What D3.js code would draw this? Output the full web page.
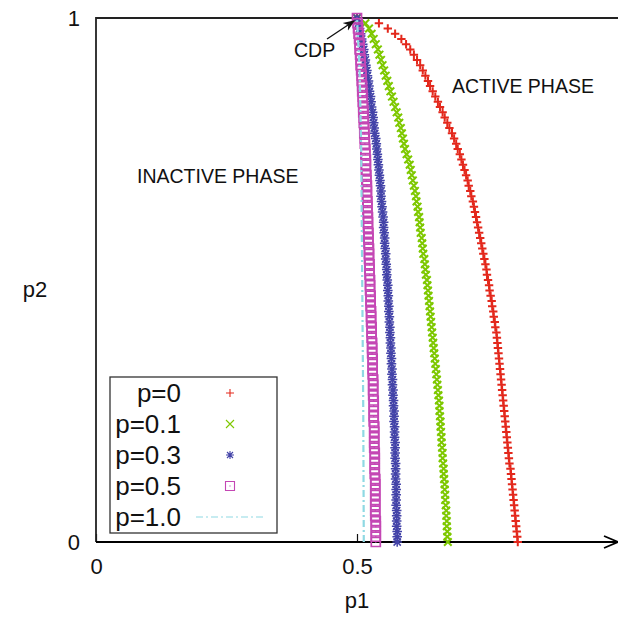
<!DOCTYPE html>
<html lang="en">

<head>
    <meta charset="UTF-8">
    <title>phase diagram</title>
    <style>
        body { margin: 0; background: #fff; }
        svg text { font-family: "Liberation Sans", Arial, Helvetica, sans-serif; fill: #111; }
    </style>
</head>

<body>
    <svg width="618" height="617" id="svg"></svg>
    <script src="https://d3js.org/d3.v7.min.js"></script>
    <script>
        // p2 grid shared by the four marker series (bottom -> top)
        const p2Grid = [
            0.00, 0.01, 0.02, 0.03, 0.04, 0.05, 0.06, 0.07, 0.08, 0.09,
            0.10, 0.11, 0.12, 0.13, 0.14, 0.15, 0.16, 0.17, 0.18, 0.19,
            0.20, 0.21, 0.22, 0.23, 0.24, 0.25, 0.26, 0.27, 0.28, 0.29,
            0.30, 0.31, 0.32, 0.33, 0.34, 0.35, 0.36, 0.37, 0.38, 0.39,
            0.40, 0.41, 0.42, 0.43, 0.44, 0.45, 0.46, 0.47, 0.48, 0.49,
            0.50, 0.51, 0.52, 0.53, 0.54, 0.55, 0.56, 0.57, 0.58, 0.59,
            0.60, 0.61, 0.62, 0.63, 0.64, 0.65, 0.66, 0.67, 0.68, 0.69,
            0.70, 0.71, 0.72, 0.73, 0.74, 0.75, 0.76, 0.77, 0.78, 0.79,
            0.80, 0.81, 0.82, 0.83, 0.84, 0.85, 0.86, 0.87, 0.88, 0.89,
            0.90, 0.91, 0.92, 0.93, 0.94, 0.95, 0.96, 0.97, 0.98, 0.99,
            1.00
        ]
        // p1 on the phase boundary, one value per p2Grid entry
        const p1_p0 = [
            0.808, 0.807, 0.806, 0.805, 0.804, 0.803, 0.802, 0.801, 0.800, 0.799,
            0.798, 0.797, 0.796, 0.795, 0.794, 0.792, 0.791, 0.790, 0.789, 0.788,
            0.787, 0.786, 0.785, 0.784, 0.783, 0.782, 0.781, 0.780, 0.779, 0.778,
            0.777, 0.776, 0.775, 0.774, 0.773, 0.772, 0.771, 0.770, 0.769, 0.768,
            0.767, 0.765, 0.764, 0.762, 0.761, 0.759, 0.758, 0.756, 0.754, 0.753,
            0.751, 0.749, 0.748, 0.746, 0.744, 0.742, 0.740, 0.738, 0.736, 0.734,
            0.732, 0.730, 0.728, 0.726, 0.724, 0.722, 0.719, 0.717, 0.714, 0.712,
            0.709, 0.706, 0.703, 0.700, 0.697, 0.693, 0.690, 0.686, 0.682, 0.677,
            0.673, 0.668, 0.664, 0.659, 0.655, 0.650, 0.645, 0.640, 0.636, 0.631,
            0.626, 0.621, 0.615, 0.609, 0.602, 0.594, 0.585, 0.573, 0.559, 0.542,
            0.500
        ]
        const p1_p01 = [
            0.674, 0.673, 0.673, 0.672, 0.672, 0.671, 0.671, 0.670, 0.669, 0.669,
            0.668, 0.668, 0.667, 0.666, 0.666, 0.665, 0.664, 0.664, 0.663, 0.662,
            0.662, 0.661, 0.660, 0.660, 0.659, 0.658, 0.658, 0.657, 0.656, 0.655,
            0.654, 0.653, 0.652, 0.651, 0.650, 0.649, 0.648, 0.647, 0.646, 0.645,
            0.644, 0.643, 0.642, 0.641, 0.640, 0.639, 0.638, 0.637, 0.636, 0.635,
            0.634, 0.632, 0.631, 0.630, 0.629, 0.627, 0.626, 0.625, 0.624, 0.622,
            0.621, 0.620, 0.619, 0.617, 0.616, 0.614, 0.613, 0.611, 0.609, 0.607,
            0.605, 0.603, 0.601, 0.598, 0.595, 0.592, 0.590, 0.588, 0.586, 0.584,
            0.581, 0.579, 0.576, 0.573, 0.570, 0.567, 0.564, 0.561, 0.558, 0.555,
            0.552, 0.549, 0.546, 0.543, 0.540, 0.536, 0.532, 0.528, 0.523, 0.516,
            0.500
        ]
        const p1_p03 = [
            0.577, 0.577, 0.577, 0.576, 0.576, 0.576, 0.576, 0.575, 0.575, 0.575,
            0.575, 0.575, 0.574, 0.574, 0.574, 0.574, 0.573, 0.573, 0.573, 0.573,
            0.572, 0.572, 0.572, 0.571, 0.571, 0.571, 0.570, 0.570, 0.569, 0.569,
            0.568, 0.568, 0.567, 0.567, 0.566, 0.566, 0.565, 0.565, 0.564, 0.564,
            0.563, 0.563, 0.562, 0.562, 0.561, 0.561, 0.560, 0.560, 0.559, 0.559,
            0.558, 0.557, 0.557, 0.556, 0.555, 0.555, 0.554, 0.553, 0.553, 0.552,
            0.551, 0.551, 0.550, 0.549, 0.548, 0.547, 0.546, 0.546, 0.545, 0.544,
            0.543, 0.542, 0.541, 0.540, 0.539, 0.538, 0.537, 0.536, 0.534, 0.533,
            0.532, 0.531, 0.530, 0.528, 0.527, 0.526, 0.524, 0.523, 0.522, 0.520,
            0.519, 0.517, 0.516, 0.514, 0.513, 0.511, 0.509, 0.507, 0.505, 0.503,
            0.500
        ]
        const p1_p05 = [
            0.536, 0.536, 0.536, 0.536, 0.536, 0.535, 0.535, 0.535, 0.535, 0.535,
            0.535, 0.535, 0.535, 0.534, 0.534, 0.534, 0.534, 0.534, 0.533, 0.533,
            0.533, 0.533, 0.533, 0.532, 0.532, 0.532, 0.532, 0.532, 0.531, 0.531,
            0.531, 0.531, 0.530, 0.530, 0.530, 0.530, 0.529, 0.529, 0.529, 0.528,
            0.528, 0.528, 0.527, 0.527, 0.527, 0.526, 0.526, 0.526, 0.525, 0.525,
            0.525, 0.524, 0.524, 0.524, 0.523, 0.523, 0.523, 0.522, 0.522, 0.522,
            0.521, 0.521, 0.521, 0.520, 0.520, 0.520, 0.519, 0.519, 0.519, 0.518,
            0.518, 0.517, 0.517, 0.517, 0.516, 0.516, 0.515, 0.515, 0.514, 0.514,
            0.513, 0.513, 0.512, 0.512, 0.511, 0.511, 0.510, 0.510, 0.509, 0.509,
            0.508, 0.507, 0.507, 0.506, 0.505, 0.505, 0.504, 0.503, 0.502, 0.501,
            0.500
        ]
        // p=1.0 is drawn as a line
        const p2_p10 = [0.00, 0.25, 0.50, 0.75, 0.90, 1.00]
        const p1_p10 = [0.513, 0.512, 0.510, 0.508, 0.505, 0.500]

        const seriesNames = ["p=0", "p=0.1", "p=0.3", "p=0.5", "p=1.0"]
        const xTicks = [0, 0.5]
        const yTicks = [0, 1]

        const colors = ["#e3281c", "#7ec800", "#4343a8", "#c447b4", "#8fd9e3"]

        const svg = d3.select("svg#svg")
        const width = +svg.attr("width")
        const height = +svg.attr("height")
        const padding = { top: 18, bottom: 75, right: 0, left: 96 }

        const xScale = d3.scaleLinear().domain([0, 1]).range([padding.left, width - padding.right])
        const yScale = d3.scaleLinear().domain([0, 1]).range([height - padding.bottom, padding.top])
        const x0 = xScale(0), x1 = xScale(1), y0 = yScale(0), y1 = yScale(1)

        // tick labels through d3 axes
        const xAxis = d3.axisBottom(xScale).tickValues(xTicks).tickFormat(d3.format("")).tickSize(-8).tickSizeOuter(0).tickPadding(16)
        const gx = svg.append("g").attr("transform", `translate(0,${y0})`).call(xAxis)
        gx.select(".domain").remove()
        gx.selectAll("line").attr("stroke", "#111").attr("stroke-width", 1.2)
        gx.selectAll("text").attr("font-size", 22).attr("fill", "#111")
            .attr("font-family", "Liberation Sans, Arial, sans-serif")

        const yAxis = d3.axisLeft(yScale).tickValues(yTicks).tickFormat(d3.format("")).tickSize(0).tickSizeOuter(0).tickPadding(16)
        const gy = svg.append("g").attr("transform", `translate(${x0},0)`).call(yAxis)
        gy.select(".domain").remove()
        gy.selectAll("text").attr("font-size", 22).attr("fill", "#111")
            .attr("font-family", "Liberation Sans, Arial, sans-serif")

        // frame: left, top, bottom with open arrow
        svg.append("path").attr("d", `M${x0},${y0} V${y1} H${x1}`)
            .attr("fill", "none").attr("stroke", "#222").attr("stroke-width", 1.8)
        svg.append("path").attr("d", `M${x0},${y0} H${x1}`)
            .attr("fill", "none").attr("stroke", "#000").attr("stroke-width", 2)
        svg.append("path").attr("d", `M${x1 - 14},${y0 - 6} L${x1},${y0} L${x1 - 14},${y0 + 6}`)
            .attr("fill", "none").attr("stroke", "#000").attr("stroke-width", 1.8)

        // marker shapes
        const shapes = {
            plus: s => `M${-s},0H${s}M0,${-s}V${s}`,
            cross: s => `M${-s},${-s}L${s},${s}M${-s},${s}L${s},${-s}`,
            star: s => `M${-s},0H${s}M0,${-s}V${s}M${-s * 0.75},${-s * 0.75}L${s * 0.75},${s * 0.75}M${-s * 0.75},${s * 0.75}L${s * 0.75},${-s * 0.75}`,
            square: s => `M${-s},${-s}H${s}V${s}H${-s}Z M-0.6,0 H0.6`
        }
        const markerSeries = [
            { p1: p1_p0, shape: "plus", size: 4.2, width: 2 },
            { p1: p1_p01, shape: "cross", size: 3.8, width: 2 },
            { p1: p1_p03, shape: "star", size: 4.8, width: 1.5 },
            { p1: p1_p05, shape: "square", size: 4.5, width: 1.7 }
        ]

        const plot = svg.append("g")
        markerSeries.forEach((s, k) => {
            plot.append("g").selectAll("path").data(p2Grid).enter().append("path")
                .attr("transform", (d, i) => `translate(${xScale(s.p1[i])},${yScale(d)})`)
                .attr("d", shapes[s.shape](s.size))
                .attr("fill", "none")
                .attr("stroke", colors[k])
                .attr("stroke-width", s.width)
        })

        const line = d3.line().x((d, i) => xScale(p1_p10[i])).y(d => yScale(d))
        plot.append("path").attr("d", line(p2_p10))
            .attr("fill", "none").attr("stroke", colors[4]).attr("stroke-width", 2.2)
            .attr("stroke-dasharray", "7,3,2,3")

        // annotations
        svg.append("defs").append("marker").attr("id", "arr")
            .attr("viewBox", "0 0 10 10").attr("refX", 9).attr("refY", 5)
            .attr("markerWidth", 9).attr("markerHeight", 9).attr("orient", "auto")
            .append("path").attr("d", "M0,1 L10,5 L0,9 L3,5 Z").attr("fill", "#111")
        svg.append("line").attr("x1", 327).attr("y1", 39).attr("x2", xScale(0.5) - 3).attr("y2", yScale(1) + 3)
            .attr("stroke", "#111").attr("stroke-width", 1.3).attr("marker-end", "url(#arr)")
        svg.append("text").attr("x", 294).attr("y", 57).attr("font-size", 19.5).text("CDP")
        svg.append("text").attr("x", 452).attr("y", 93).attr("font-size", 19.5).text("ACTIVE PHASE")
        svg.append("text").attr("x", 137).attr("y", 183).attr("font-size", 19.5).text("INACTIVE PHASE")

        // axis titles
        svg.append("text").attr("x", xScale(0.5)).attr("y", 608).attr("text-anchor", "middle").attr("font-size", 22).text("p1")
        svg.append("text").attr("x", 35).attr("y", 297).attr("text-anchor", "middle").attr("font-size", 22).text("p2")

        // legend
        const legend = svg.append("g")
        legend.append("rect").attr("x", 110).attr("y", 377).attr("width", 167).attr("height", 156)
            .attr("fill", "#fff").attr("stroke", "#333").attr("stroke-width", 1.3)
        seriesNames.forEach((name, k) => {
            const cy = 393 + k * 31
            legend.append("text").attr("x", 181).attr("y", cy).attr("dy", "0.36em")
                .attr("text-anchor", "end").attr("font-size", 26).text(name)
            if (k < 4) {
                legend.append("path").attr("transform", `translate(230,${cy})`)
                    .attr("d", shapes[markerSeries[k].shape](k === 3 ? 4.5 : 4))
                    .attr("fill", "none").attr("stroke", colors[k]).attr("stroke-width", 1.1)
            } else {
                legend.append("line").attr("x1", 196).attr("x2", 263).attr("y1", cy).attr("y2", cy)
                    .attr("stroke", colors[k]).attr("stroke-width", 1.2).attr("stroke-dasharray", "7,3,2,3")
            }
        })
    </script>
</body>

</html>
